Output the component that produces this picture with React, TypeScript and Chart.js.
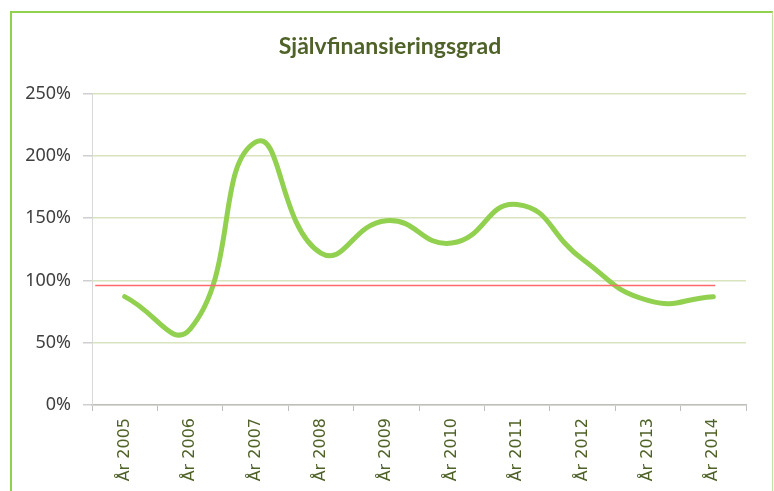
import React, { useEffect, useRef } from "react";
import { Chart, registerables } from "chart.js";

Chart.register(...registerables);

const TITLE = "Självfinansieringsgrad";
const CATEGORIES = ["År 2005", "År 2006", "År 2007", "År 2008", "År 2009", "År 2010", "År 2011", "År 2012", "År 2013", "År 2014"];
const VALUES = [87, 61, 211, 122, 148, 130, 161, 117, 84, 87];
const TARGET_VALUE = 96;
const TARGET_SPAN = [-0.45, 9.03];
const Y_MIN = 0;
const Y_MAX = 250;
const Y_STEP = 50;

export default function App() {
  const canvasRef = useRef<HTMLCanvasElement | null>(null);

  useEffect(() => {
    const canvas = canvasRef.current;
    if (!canvas) return;
    const chart = new Chart(canvas, {
      type: "line",
      data: {
        labels: CATEGORIES,
        datasets: [
          {
            data: TARGET_SPAN.map((x) => ({ x, y: TARGET_VALUE })) as any,
            xAxisID: "x2",
            yAxisID: "y",
            borderColor: "#FF6B6B",
            borderWidth: 1.5,
            pointRadius: 0,
            tension: 0,
            order: 0,
          },
          {
            data: VALUES,
            xAxisID: "x",
            yAxisID: "y",
            borderColor: "#92D050",
            borderWidth: 5,
            borderCapStyle: "round",
            pointRadius: 0,
            tension: 0.5,
            order: 1,
          },
        ],
      },
      options: {
        responsive: false,
        animation: false,
        devicePixelRatio: 1,
        layout: { padding: { left: 6, right: 0, top: 0, bottom: 0 } },
        plugins: {
          legend: { display: false },
          tooltip: { enabled: false },
          title: {
            display: true,
            text: TITLE,
            color: "#4F6228",
            font: { family: "Lato", size: 23, weight: "bold" },
            padding: { top: 33, bottom: 33 },
          },
        },
        scales: {
          x: {
            type: "category",
            offset: true,
            grid: {
              offset: true,
              drawOnChartArea: false,
              drawTicks: true,
              tickLength: 6,
              tickColor: "#BFBFBF",
              color: "#BFBFBF",
            },
            border: { color: "#BFBFBF", width: 1.5 },
            ticks: {
              minRotation: 90,
              maxRotation: 90,
              autoSkip: false,
              padding: 7,
              color: "#4F6228",
              font: { family: "DejaVu Sans", size: 16 },
            },
            afterFit: (scale: any) => {
              scale.height = 86;
            },
          },
          x2: {
            type: "linear",
            display: false,
            min: -0.5,
            max: 9.5,
          },
          y: {
            min: Y_MIN,
            max: Y_MAX,
            ticks: {
              stepSize: Y_STEP,
              padding: 12,
              color: "#404040",
              font: { family: "Noto Sans", size: 18 },
              callback: (v: any) => v + "%",
            },
            grid: {
              color: "#D7E4BD",
              lineWidth: 1.5,
              tickLength: 9,
              tickColor: "#CFCFCF",
            },
            border: { color: "#D9D9D9", width: 1 },
            afterFit: (scale: any) => {
              scale.width = 86;
            },
          },
          yRight: {
            position: "right",
            display: true,
            min: Y_MIN,
            max: Y_MAX,
            grid: { display: false, drawOnChartArea: false },
            border: { display: false },
            ticks: { display: false },
            afterFit: (scale: any) => {
              scale.width = 28;
            },
          },
        },
      },
    });
    return () => chart.destroy();
  }, []);

  return (
    <div style={{ position: "absolute", left: 0, top: 0, width: 774, height: 491, overflow: "hidden", background: "#fff" }}>
      <div
        style={{
          position: "absolute",
          left: 10,
          top: 11,
          width: 763,
          height: 520,
          boxSizing: "border-box",
          borderLeft: "2px solid #92D050",
          borderTop: "2px solid #92D050",
          borderRight: "1px solid #C5E0A5",
        }}
      />
      <canvas ref={canvasRef} width={774} height={491} style={{ position: "absolute", left: 0, top: 0 }} />
    </div>
  );
}
